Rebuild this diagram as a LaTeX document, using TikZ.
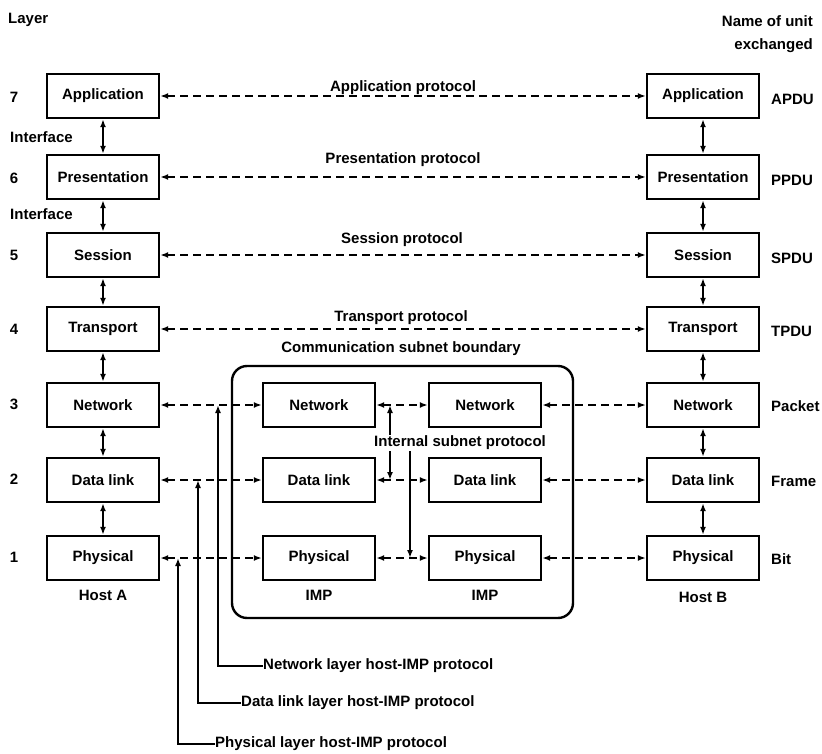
\documentclass[tikz,border=0pt]{standalone}
\usepackage{fontspec}
\setmainfont{Liberation Sans}
\usetikzlibrary{arrows.meta}

\begin{document}
\begin{tikzpicture}[x=1pt,y=-1pt,
  font=\fontsize{15}{18}\selectfont\bfseries,
  tip/.tip={Latex[length=8pt,width=6pt]},
  layerbox/.style={draw, line width=2.4pt, minimum width=112pt, minimum height=44pt, inner sep=0pt},
  peer/.style={line width=2pt, dash pattern=on 8pt off 5pt, tip-tip},
  stack/.style={line width=2pt, tip-tip},
  leader/.style={line width=1.8pt, -tip},
  lbl/.style={inner sep=0pt},
]
\useasboundingbox (0,0) rectangle (822,754);

% column headings
\node[lbl, anchor=west] (layerhd) at (8,20) {Layer};
\node[lbl, anchor=east] (unithd1) at (813,21) {Name of unit};
\node[lbl, anchor=east] (unithd2) at (813,46) {exchanged};

% communication subnet boundary
\draw[line width=2.4pt, rounded corners=15pt] (232,366) rectangle (573,618);

% host A stack
\node[layerbox] (a7) at (103,96)  {Application};
\node[layerbox] (a6) at (103,177) {Presentation};
\node[layerbox] (a5) at (103,255) {Session};
\node[layerbox] (a4) at (103,329) {Transport};
\node[layerbox] (a3) at (103,405) {Network};
\node[layerbox] (a2) at (103,480) {Data link};
\node[layerbox] (a1) at (103,558) {Physical};

% host B stack
\node[layerbox] (b7) at (703,96)  {Application};
\node[layerbox] (b6) at (703,177) {Presentation};
\node[layerbox] (b5) at (703,255) {Session};
\node[layerbox] (b4) at (703,329) {Transport};
\node[layerbox] (b3) at (703,405) {Network};
\node[layerbox] (b2) at (703,480) {Data link};
\node[layerbox] (b1) at (703,558) {Physical};

% the two IMPs
\node[layerbox] (i3) at (319,405) {Network};
\node[layerbox] (i2) at (319,480) {Data link};
\node[layerbox] (i1) at (319,558) {Physical};
\node[layerbox] (j3) at (485,405) {Network};
\node[layerbox] (j2) at (485,480) {Data link};
\node[layerbox] (j1) at (485,558) {Physical};

% layer numbers
\node[lbl] (n7) at (14,97)  {7};
\node[lbl] (n6) at (14,178) {6};
\node[lbl] (n5) at (14,255) {5};
\node[lbl] (n4) at (14,329) {4};
\node[lbl] (n3) at (14,404) {3};
\node[lbl] (n2) at (14,479) {2};
\node[lbl] (n1) at (14,557) {1};
\node[lbl, anchor=west] (if76) at (10,137) {Interface};
\node[lbl, anchor=west] (if65) at (10,214) {Interface};

% units exchanged
\node[lbl, anchor=west] (u7) at (771,99)  {APDU};
\node[lbl, anchor=west] (u6) at (771,180) {PPDU};
\node[lbl, anchor=west] (u5) at (771,258) {SPDU};
\node[lbl, anchor=west] (u4) at (771,331) {TPDU};
\node[lbl, anchor=west] (u3) at (771,406) {Packet};
\node[lbl, anchor=west] (u2) at (771,481) {Frame};
\node[lbl, anchor=west] (u1) at (771,559) {Bit};

% station names
\node[lbl] (hosta) at (103,595) {Host A};
\node[lbl] (imp1)  at (319,595) {IMP};
\node[lbl] (imp2)  at (485,595) {IMP};
\node[lbl] (hostb) at (703,597) {Host B};

% interfaces inside each host
\foreach \u/\l in {7/6,6/5,5/4,4/3,3/2,2/1} {
  \draw[stack] (a\u) -- (a\l);
  \draw[stack] (b\u) -- (b\l);
}

% end-to-end peer protocols
\draw[peer] (a7) -- (b7);
\draw[peer] (a6) -- (b6);
\draw[peer] (a5) -- (b5);
\draw[peer] (a4) -- (b4);
\node[lbl] (p7) at (403,88)  {Application protocol};
\node[lbl] (p6) at (403,160) {Presentation protocol};
\node[lbl] (p5) at (402,240) {Session protocol};
\node[lbl] (p4) at (401,318) {Transport protocol};
\node[lbl] (subnet) at (401,349) {Communication subnet boundary};

% hop-by-hop protocols
\foreach \r in {3,2,1} {
  \draw[peer] (a\r) -- (i\r);
  \draw[peer] (i\r) -- (j\r);
  \draw[peer] (j\r) -- (b\r);
}

% internal subnet protocol markers
\coordinate (is3) at (390,405);
\coordinate (is2) at (390,480);
\coordinate (is1) at (410,558);
\draw[stack] (is2) -- (is3);
\node[lbl, fill=white, inner sep=1pt] (internal) at (460,443) {Internal subnet protocol};
\draw[leader] (internal.south -| is1) -- (is1);

% host-IMP protocol leaders
\coordinate (nh) at (218,405);
\coordinate (dh) at (198,480);
\coordinate (ph) at (178,558);
\node[lbl, anchor=west] (nlp) at (263,666) {Network layer host-IMP protocol};
\node[lbl, anchor=west] (dlp) at (241,703) {Data link layer host-IMP protocol};
\node[lbl, anchor=west] (plp) at (215,744) {Physical layer host-IMP protocol};
\draw[leader] (nlp.west) -| (nh);
\draw[leader] (dlp.west) -| (dh);
\draw[leader] (plp.west) -| (ph);
\end{tikzpicture}
\end{document}
